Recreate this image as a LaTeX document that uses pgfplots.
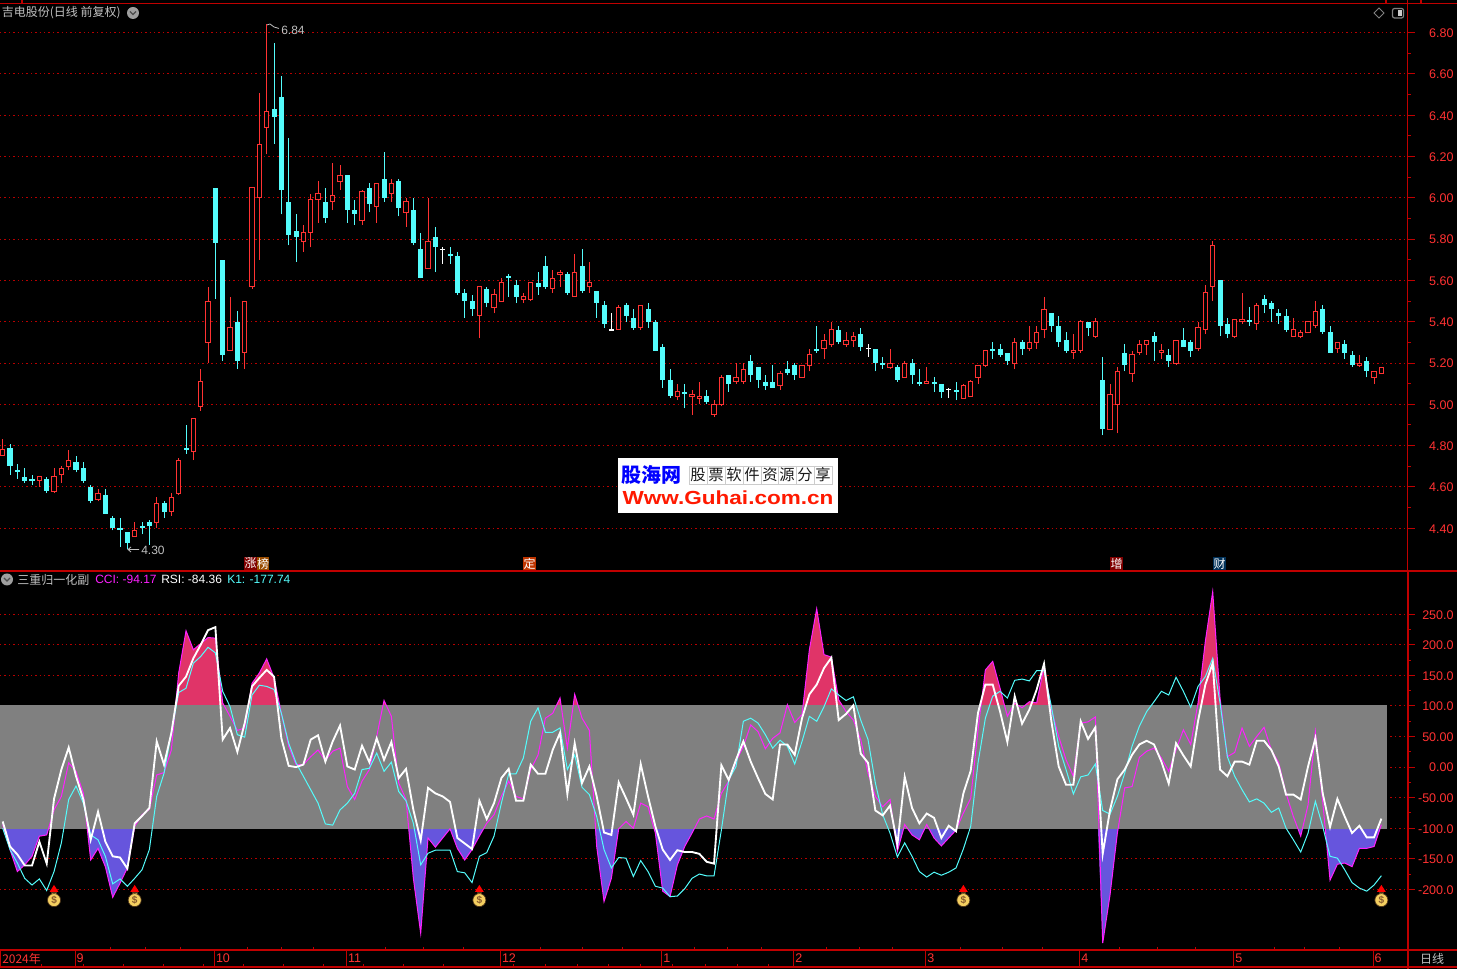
\documentclass[border=0pt]{standalone}
\usepackage{pgfplots}
\usepackage{pgfplotstable}
\usepackage{fontspec}
\pgfplotsset{compat=1.18}
\setmainfont{Liberation Sans}
\newfontfamily\cjk{Noto Sans CJK SC}

\definecolor{cup}{HTML}{FF3232}
\definecolor{cdn}{HTML}{54FCFC}
\definecolor{cframe}{HTML}{C00000}
\definecolor{cgrid}{HTML}{B80000}
\definecolor{clab}{HTML}{FF3232}
\definecolor{cband}{HTML}{808080}
\definecolor{chot}{HTML}{E03468}
\definecolor{ccold}{HTML}{6655DD}
\definecolor{cmag}{HTML}{FF20FF}
\definecolor{cgrey}{HTML}{C0C0C0}

% candles: x = bar number, t/b = body top and bottom, h/l = high and low
\pgfplotstableread{
x t b h l
0 4.78 4.75 4.83 4.75
5 4.65 4.63 4.65 4.60
7 4.65 4.58 4.69 4.57
8 4.69 4.66 4.70 4.62
9 4.73 4.70 4.78 4.68
13 4.57 4.54 4.59 4.53
18 4.39 4.36 4.43 4.36
21 4.52 4.43 4.55 4.40
23 4.55 4.48 4.57 4.46
24 4.73 4.57 4.74 4.56
26 4.93 4.77 4.93 4.73
27 5.11 4.99 5.17 4.97
28 5.50 5.30 5.57 5.20
31 5.37 5.26 5.52 5.26
33 5.50 5.25 5.50 5.17
34 6.05 5.57 6.05 5.56
35 6.26 6.00 6.51 5.70
36 6.42 6.34 6.84 6.21
41 5.83 5.79 5.87 5.74
42 5.99 5.83 6.02 5.76
43 6.02 5.99 6.08 5.88
45 6.01 5.98 6.17 5.94
46 6.11 6.08 6.16 6.04
49 6.03 5.89 6.04 5.87
51 6.07 5.96 6.07 5.88
53 6.07 6.02 6.09 5.98
55 5.98 5.93 6.00 5.86
58 5.79 5.66 6.00 5.66
65 5.57 5.43 5.57 5.32
67 5.53 5.47 5.56 5.44
68 5.59 5.50 5.61 5.50
71 5.52 5.51 5.54 5.49
72 5.59 5.51 5.59 5.50
75 5.61 5.56 5.65 5.54
76 5.64 5.63 5.65 5.57
78 5.64 5.52 5.73 5.52
80 5.59 5.57 5.69 5.54
84 5.47 5.36 5.48 5.36
87 5.48 5.37 5.48 5.36
92 5.06 5.04 5.10 5.02
94 5.05 5.04 5.07 4.95
95 5.04 5.03 5.11 5.00
97 5.00 4.95 5.02 4.94
98 5.13 5.00 5.14 4.99
100 5.13 5.11 5.20 5.10
101 5.17 5.11 5.20 5.10
106 5.15 5.09 5.16 5.07
109 5.19 5.13 5.19 5.13
110 5.24 5.19 5.27 5.16
112 5.31 5.27 5.34 5.22
113 5.36 5.29 5.40 5.28
115 5.31 5.29 5.35 5.28
116 5.33 5.31 5.35 5.28
121 5.20 5.18 5.27 5.17
123 5.20 5.13 5.21 5.13
126 5.11 5.10 5.18 5.10
131 5.09 5.03 5.10 5.03
132 5.11 5.04 5.12 5.04
133 5.19 5.13 5.19 5.10
134 5.26 5.19 5.26 5.18
138 5.30 5.20 5.32 5.17
140 5.30 5.27 5.38 5.26
141 5.35 5.30 5.38 5.27
142 5.46 5.36 5.52 5.32
146 5.26 5.25 5.34 5.22
147 5.40 5.26 5.41 5.25
149 5.40 5.33 5.42 5.32
151 5.05 4.88 5.10 4.88
152 5.16 5.00 5.18 4.86
154 5.24 5.15 5.26 5.11
155 5.29 5.25 5.31 5.24
156 5.31 5.29 5.31 5.24
158 5.26 5.25 5.29 5.22
160 5.31 5.20 5.31 5.19
163 5.37 5.27 5.40 5.26
164 5.54 5.36 5.58 5.34
165 5.77 5.57 5.79 5.50
168 5.41 5.33 5.41 5.32
169 5.41 5.40 5.54 5.39
171 5.48 5.39 5.49 5.36
176 5.36 5.33 5.42 5.33
177 5.35 5.33 5.36 5.32
178 5.40 5.35 5.40 5.35
179 5.45 5.38 5.50 5.37
182 5.30 5.27 5.30 5.25
185 5.20 5.19 5.24 5.18
187 5.16 5.13 5.16 5.10
188 5.18 5.15 5.18 5.15
}\upbars

\pgfplotstableread{
x t b h l
1 4.79 4.70 4.81 4.66
2 4.68 4.67 4.71 4.64
3 4.65 4.63 4.69 4.62
4 4.64 4.63 4.66 4.61
6 4.64 4.58 4.65 4.57
10 4.72 4.68 4.75 4.67
11 4.69 4.63 4.72 4.62
12 4.60 4.53 4.61 4.52
14 4.56 4.47 4.59 4.47
15 4.45 4.40 4.46 4.39
16 4.40 4.39 4.45 4.31
17 4.38 4.33 4.38 4.30
19 4.41 4.40 4.43 4.37
20 4.43 4.41 4.44 4.32
22 4.52 4.48 4.53 4.45
25 4.79 4.78 4.90 4.76
29 6.05 5.78 6.05 5.51
30 5.70 5.24 5.70 5.21
32 5.40 5.21 5.45 5.17
37 6.43 6.39 6.75 6.26
38 6.49 6.04 6.59 5.92
39 5.98 5.82 6.29 5.77
40 5.84 5.81 5.92 5.69
44 5.98 5.90 6.05 5.88
47 6.11 5.94 6.11 5.88
48 5.94 5.92 5.99 5.87
50 6.05 5.97 6.07 5.93
52 6.09 6.00 6.22 5.98
54 6.08 5.95 6.09 5.91
56 5.94 5.78 6.00 5.77
57 5.75 5.61 5.83 5.61
59 5.81 5.76 5.86 5.64
61 5.73 5.72 5.76 5.68
62 5.72 5.54 5.74 5.53
63 5.54 5.50 5.56 5.42
64 5.50 5.46 5.53 5.43
66 5.56 5.49 5.57 5.47
69 5.62 5.61 5.63 5.52
70 5.58 5.52 5.60 5.49
73 5.59 5.57 5.64 5.53
74 5.67 5.57 5.72 5.56
77 5.63 5.54 5.64 5.53
79 5.67 5.55 5.75 5.54
81 5.55 5.49 5.55 5.42
82 5.48 5.39 5.50 5.37
85 5.48 5.43 5.49 5.40
86 5.42 5.37 5.46 5.36
88 5.46 5.40 5.49 5.37
89 5.40 5.26 5.41 5.26
90 5.28 5.12 5.29 5.08
91 5.12 5.04 5.17 5.03
93 5.06 5.05 5.10 4.98
96 5.04 5.01 5.07 5.00
99 5.14 5.10 5.14 5.06
102 5.21 5.14 5.24 5.11
103 5.18 5.12 5.18 5.08
104 5.11 5.09 5.14 5.07
105 5.11 5.08 5.19 5.08
107 5.17 5.15 5.21 5.14
108 5.19 5.14 5.20 5.12
111 5.27 5.26 5.38 5.25
114 5.36 5.30 5.38 5.29
117 5.34 5.28 5.37 5.26
119 5.27 5.20 5.27 5.16
120 5.20 5.19 5.23 5.17
122 5.18 5.12 5.19 5.11
124 5.20 5.14 5.22 5.10
125 5.11 5.10 5.17 5.09
127 5.11 5.10 5.13 5.06
128 5.10 5.06 5.10 5.03
130 5.07 5.06 5.11 5.02
135 5.27 5.26 5.30 5.22
136 5.27 5.24 5.29 5.23
137 5.25 5.21 5.25 5.19
139 5.30 5.27 5.31 5.24
143 5.44 5.38 5.44 5.35
144 5.38 5.30 5.43 5.28
145 5.31 5.26 5.35 5.25
148 5.40 5.37 5.40 5.33
150 5.12 4.88 5.23 4.85
153 5.25 5.19 5.29 5.16
157 5.33 5.30 5.35 5.21
159 5.24 5.21 5.27 5.18
161 5.31 5.28 5.37 5.28
162 5.30 5.26 5.31 5.23
166 5.60 5.38 5.60 5.33
167 5.39 5.34 5.42 5.32
170 5.41 5.40 5.47 5.38
172 5.51 5.48 5.53 5.44
173 5.49 5.46 5.50 5.40
174 5.44 5.43 5.46 5.39
175 5.43 5.36 5.46 5.35
180 5.46 5.35 5.48 5.34
181 5.35 5.25 5.38 5.25
183 5.29 5.25 5.31 5.22
184 5.24 5.19 5.26 5.18
186 5.21 5.16 5.23 5.13
}\downbars

\pgfplotstableread{
x t b h l
60 5.75 5.75 5.76 5.68
83 5.36 5.36 5.44 5.36
118 5.27 5.27 5.29 5.23
129 5.07 5.07 5.08 5.03
}\flatbars

\pgfplotstableread{
x cci rsi k
0 -94 -89 -100
1 -135 -130 -135
2 -171 -143 -157
3 -160 -161 -182
4 -146 -161 -193
5 -113 -122 -183
6 -111 -158 -202
7 -70 -52 -171
8 -48 -4 -124
9 7 32 -53
10 -7 -15 -31
11 -43 -53 -59
12 -152 -119 -111
13 -133 -73 -119
14 -163 -122 -146
15 -213 -146 -191
16 -190 -148 -183
17 -165 -166 -195
18 -97 -92 -182
19 -78 -80 -168
20 -69 -67 -135
21 -13 42 -48
22 -9 4 -10
23 28 56 56
24 154 133 122
25 223 148 129
26 192 178 170
27 202 200 181
28 212 224 196
29 211 229 187
30 105 45 124
31 83 64 99
32 60 25 53
33 64 72 49
34 137 132 118
35 154 146 134
36 177 159 132
37 146 148 127
38 88 47 88
39 34 2 39
40 4 0 7
41 4 4 -15
42 17 45 -37
43 28 52 -59
44 11 9 -93
45 26 42 -95
46 31 68 -70
47 -32 1 -59
48 -53 -4 -43
49 -23 35 -4
50 -4 8 -2
51 50 47 23
52 109 12 -7
53 83 41 8
54 -26 -18 -40
55 -53 -3 -55
56 -182 -70 -92
57 -272 -120 -160
58 -116 -34 -141
59 -131 -43 -136
60 -116 -48 -136
61 -101 -57 -136
62 -133 -116 -171
63 -152 -125 -173
64 -135 -134 -189
65 -113 -55 -146
66 -92 -85 -140
67 -78 -59 -113
68 -48 -18 -59
69 -23 -3 -11
70 -48 -55 -11
71 -52 -55 15
72 -4 4 75
73 20 -11 97
74 80 -11 57
75 88 28 57
76 113 56 64
77 31 -44 -4
78 119 39 20
79 80 -26 -33
80 60 1 -45
81 -130 -48 -81
82 -220 -107 -135
83 -182 -111 -165
84 -101 -25 -148
85 -89 -51 -149
86 -100 -78 -179
87 -59 5 -153
88 -65 -48 -171
89 -108 -97 -195
90 -203 -135 -198
91 -212 -152 -212
92 -160 -136 -211
93 -130 -139 -199
94 -108 -139 -182
95 -85 -142 -175
96 -80 -155 -178
97 -85 -158 -178
98 -43 3 -103
99 -23 -21 -21
100 9 12 1
101 34 42 75
102 69 9 80
103 58 -18 72
104 30 -44 53
105 47 -53 31
106 56 37 44
107 102 37 34
108 73 20 5
109 86 80 42
110 192 119 83
111 259 135 75
112 184 162 99
113 180 179 128
114 110 77 118
115 91 87 109
116 77 101 115
117 45 22 77
118 -10 7 45
119 -48 -71 -26
120 -65 -79 -78
121 -53 -63 -108
122 -138 -127 -147
123 -94 -16 -124
124 -111 -67 -146
125 -119 -92 -171
126 -94 -76 -180
127 -116 -83 -172
128 -129 -116 -177
129 -116 -96 -172
130 -103 -105 -165
131 -75 -43 -134
132 -51 -6 -97
133 61 89 7
134 159 135 80
135 173 135 116
136 129 91 124
137 83 41 113
138 105 116 142
139 97 71 144
140 107 94 141
141 105 127 158
142 165 169 158
143 94 75 99
144 50 1 34
145 12 -29 -4
146 -15 -29 -44
147 72 75 -16
148 74 46 -13
149 82 65 5
150 -288 -142 -71
151 -209 -70 -77
152 -108 -20 -48
153 -34 -4 -10
154 -32 20 34
155 16 37 67
156 26 43 91
157 31 37 107
158 15 9 124
159 -7 -27 118
160 28 39 147
161 61 19 124
162 37 1 98
163 105 75 132
164 206 135 148
165 287 170 178
166 113 -4 105
167 17 -15 17
168 24 9 -15
169 64 9 -37
170 34 4 -57
171 50 43 -52
172 65 43 -59
173 28 28 -74
174 7 1 -67
175 -43 -45 -100
176 -81 -45 -119
177 -113 -53 -139
178 -62 1 -108
179 58 47 -56
180 -56 -43 -97
181 -185 -98 -146
182 -159 -52 -149
183 -157 -81 -168
184 -163 -108 -189
185 -133 -96 -198
186 -133 -115 -203
187 -130 -115 -193
188 -94.17 -84.36 -177.74
}\indic

% candle marks, drawn relative to the body bottom; 154.875pt = one price unit
\newcommand\barsizes{%
  \pgfmathsetlengthmacro\bh{154.875*(\vt-\vb)}%
  \pgfmathsetlengthmacro\wh{154.875*(\vh-\vb)}%
  \pgfmathsetlengthmacro\wl{154.875*(\vl-\vb)}%
  \pgfsetlinewidth{0.75pt}\pgfsetbuttcap}
\newcommand\wick{%
  \pgfpathmoveto{\pgfqpoint{0pt}{\wl}}\pgfpathlineto{\pgfqpoint{0pt}{\wh}}\pgfusepathqstroke}
\pgfdeclareplotmark{barup}{\barsizes\pgfsetstrokecolor{cup}\pgfsetfillcolor{black}\wick
  \pgfpathrectangle{\pgfqpoint{-1.6pt}{0pt}}{\pgfqpoint{3.2pt}{\bh}}\pgfusepathqfillstroke}
\pgfdeclareplotmark{bardown}{\barsizes\pgfsetstrokecolor{cdn}\pgfsetfillcolor{cdn}\wick
  \pgfpathrectangle{\pgfqpoint{-1.9pt}{0pt}}{\pgfqpoint{3.8pt}{\bh}}\pgfusepathqfill}
\pgfdeclareplotmark{barflat}{\barsizes\pgfsetstrokecolor{white}\pgfsetfillcolor{white}\wick
  \pgfpathrectangle{\pgfqpoint{-1.9pt}{-0.4pt}}{\pgfqpoint{3.8pt}{0.8pt}}\pgfusepathqfill}
\pgfdeclareplotmark{moneybag}{%
  \pgfsetcolor{red}\pgfpathmoveto{\pgfqpoint{0pt}{8.8pt}}\pgfpathlineto{\pgfqpoint{3.3pt}{3.6pt}}%
  \pgfpathlineto{\pgfqpoint{-3.3pt}{3.6pt}}\pgfpathclose\pgfusepathqfill
  \definecolor{bagc}{HTML}{F4CF60}\pgfsetfillcolor{bagc}\pgfsetstrokecolor{black!60!brown}\pgfsetlinewidth{0.5pt}%
  \pgfpathrectangle{\pgfqpoint{-1.8pt}{1pt}}{\pgfqpoint{3.6pt}{2.6pt}}\pgfusepathqfillstroke
  \pgfpathcircle{\pgfqpoint{0pt}{-2.6pt}}{4.9pt}\pgfusepathqfillstroke
  \pgftext[at=\pgfqpoint{0pt}{-2.6pt}]{\color{brown!70!black}\fontsize{7.5}{8}\selectfont\bfseries\$}}

\pgfplotsset{
  candle plot/.style={scatter, only marks, mark=#1, clip marker paths=false,
    scatter/@pre marker code/.code={\scope},
    scatter/@post marker code/.code={\endscope},
    visualization depends on={\thisrow{t}\as\vt},
    visualization depends on={\thisrow{b}\as\vb},
    visualization depends on={\thisrow{h}\as\vh},
    visualization depends on={\thisrow{l}\as\vl}},
  pane/.style={
    x=5.5pt, xmin=-0.368, xmax=191.57, xtick=\empty,
    axis x line=top, axis y line=right,
    axis line style={-, cframe, line width=0.9pt},
    tick style={cframe, line width=0.75pt},
    tick align=outside, ytick pos=right,
    major tick length=5.25pt, minor tick length=2.4pt, minor y tick num=1,
    ymajorgrids, grid style={cgrid, line width=0.75pt, dash pattern=on 1pt off 2.3pt},
    yticklabel style={anchor=east, xshift=29.5pt, yshift=-0.4pt, inner sep=0pt, text=clab,
      font=\fontsize{9.4}{10}\selectfont},
    clip=false},
}

\begin{document}
\begin{tikzpicture}
\fill[black] (0,0) rectangle (1092.75pt,726.75pt);
\path[use as bounding box] (0,0) rectangle (1092.75pt,726.75pt);

% price pane
\begin{axis}[pane, at={(0pt,298.5pt)}, anchor=south west,
  y=154.875pt, ymin=4.193, ymax=6.942,
  ytick={4.4,4.6,4.8,5,5.2,5.4,5.6,5.8,6,6.2,6.4,6.6,6.8},
  yticklabels={4.40,4.60,4.80,5.00,5.20,5.40,5.60,5.80,6.00,6.20,6.40,6.60,6.80}]
  \addplot[candle plot=barup] table[x=x, y=b] {\upbars};
  \addplot[candle plot=bardown] table[x=x, y=b] {\downbars};
  \addplot[candle plot=barflat] table[x=x, y=b] {\flatbars};
\end{axis}

% indicator pane: the band hides the middle of the two fills
\begin{axis}[pane, at={(0pt,14.25pt)}, anchor=south west,
  y=0.45833pt, ymin=-299.3, ymax=320.9,
  ytick={-200,-150,-100,-50,0,50,100,150,200,250},
  yticklabels={-200.0,-150.0,-100.0,-50.00,0.00,50.00,100.0,150.0,200.0,250.0}]
  \addplot[fill=chot, draw=none] table[x=x, y expr={max(\thisrow{cci},0)}] {\indic} \closedcycle;
  \addplot[fill=ccold, draw=none] table[x=x, y expr={min(\thisrow{cci},0)}] {\indic} \closedcycle;
  \addplot[fill=cband, draw=none] coordinates {(-0.368,-101) (188.78,-101) (188.78,101) (-0.368,101)} -- cycle;
  \addplot[cmag, line width=0.75pt] table[x=x, y=cci] {\indic};
  \addplot[cdn, line width=0.75pt] table[x=x, y=k] {\indic};
  \addplot[white, line width=1.4pt] table[x=x, y=rsi] {\indic};
  \addplot[only marks, mark=moneybag] coordinates {(7,-212) (18,-212) (65,-212) (131,-212) (188,-212)};
\end{axis}

% time strip
\begin{axis}[at={(0pt,1.5pt)}, anchor=south west, x=5.5pt, xmin=-0.368, xmax=191.57,
  y=12.75pt, ymin=0, ymax=1, ytick=\empty,
  axis line style={cframe, line width=0.9pt},
  xtick={9.87,28.87,46.87,67.87,89.87,107.87,125.87,146.87,167.87,186.87},
  xticklabels={9,10,11,12,1,2,3,4,5,6},
  xtick pos=bottom, tick align=inside, major tick length=12.75pt,
  tick style={cframe, line width=0.75pt},
  xticklabel style={anchor=west, yshift=6.4pt, inner sep=1pt, text=clab, font=\fontsize{9.4}{10}\selectfont},
  clip=false]
\end{axis}

% frame, headers and labels, in reference pixels
\begin{scope}[x=0.75pt, y=-0.75pt, shift={(0pt,726.75pt)}]
  \draw[cframe, line width=0.9pt] (0,3.3) -- (1457,3.3) (1407.5,0) -- (1407.5,3.3)
    (22,0) -- (22,3) (1386,0) -- (1386,3) (1421,0) -- (1421,3);
  \draw[cframe, line width=0.9pt] (1407.5,571) -- (1457,571) (1407.5,950) -- (1457,950) (1407.5,967) -- (1457,967);
  \draw[cframe, line width=1.5pt] (1407.5,571) -- (1407.5,969);
  \draw[cframe, line width=1pt] (1407.5,3) -- (1407.5,571);
  \foreach \t in {110,145,180,247,281,313,385,423,463,540,582,622,694,727,761,826,859,892,960,1002,1042,1119,1157,1195,1274,1304,1339}
    \draw[cframe, line width=0.75pt] (\t,950) -- (\t,947);
  \foreach \t in {41,83,123,163,203,243,283,323,363,403,443,513,545,577,608,640,672,705,737,768}
    \draw[cframe, line width=0.75pt] (\t,967) -- (\t,964);

  \node[anchor=west, inner sep=0pt, text=cgrey, font=\cjk\fontsize{9}{10}\selectfont] at (1.5,13) {吉电股份(日线 前复权)};
  \fill[gray!75] (133,13) circle (6);
  \draw[black!70, line width=1pt] (130,11.5) -- (133,14.5) -- (136,11.5);
  \fill[gray!75] (7,579.5) circle (6);
  \draw[black!70, line width=1pt] (4,578) -- (7,581) -- (10,578);
  \draw[gray, line width=0.75pt] (1379,8) -- (1384,13) -- (1379,18) -- (1374,13) -- cycle;
  \draw[gray, line width=0.9pt, rounded corners=1.5] (1392.5,8.5) rectangle (1403.5,18);
  \fill[gray!40] (1398,10.5) rectangle (1402,16);

  \node[anchor=west, inner sep=0pt, text=cgrey, font=\fontsize{9}{10}\selectfont] at (281,30.5) {6.84};
  \draw[cgrey, line width=0.6pt] (267,25) -- (270,24) -- (274,27) -- (279,28.5);
  \node[anchor=west, inner sep=0pt, text=cgrey, font=\fontsize{9}{10}\selectfont] at (141,550.5) {4.30};
  \draw[cgrey, line width=0.6pt] (139,549.5) -- (128,549.5) (131,547) -- (128,549.5) -- (131,552);

  \node[anchor=west, inner sep=0pt, text=cgrey, font=\cjk\fontsize{9}{10}\selectfont] at (17,579.5) {三重归一化副};
  \node[anchor=west, inner sep=0pt, text=cmag, font=\fontsize{9}{10}\selectfont] at (95,579.5) {CCI: -94.17};
  \node[anchor=west, inner sep=0pt, text=white, font=\fontsize{9}{10}\selectfont] at (161,579.5) {RSI: -84.36};
  \node[anchor=west, inner sep=0pt, text=cdn, font=\fontsize{9}{10}\selectfont] at (227,579.5) {K1: -177.74};

  \node[anchor=west, inner sep=0pt, text=clab, font=\cjk\fontsize{9}{10}\selectfont] at (2,958.5) {2024年};
  \node[anchor=center, inner sep=0pt, text=cgrey, font=\cjk\fontsize{9}{10}\selectfont] at (1432,958.5) {日线};

  % event tags
  \fill[red!50!black] (244,557) rectangle (257,570);
  \fill[orange!60!black] (257,557) rectangle (269,570);
  \fill[orange!55!red!75!black] (523,557) rectangle (536,570);
  \fill[red!50!black] (1110,557) rectangle (1123,570);
  \fill[blue!45!cyan!35!black] (1213,557) rectangle (1226,570);
  \foreach \tx/\tg in {250.5/涨,263/榜,529.5/定,1116.5/增,1219.5/财}
    \node[text=white, inner sep=0pt, font=\cjk\fontsize{9}{10}\selectfont] at (\tx,563.5) {\tg};

  % site stamp
  \fill[white] (618,458) rectangle (838,513);
  \node[anchor=center, inner sep=0pt, text=blue, font=\cjk\bfseries\fontsize{15}{16}\selectfont] at (651.5,475) {股海网};
  \draw[gray!40, line width=0.6pt] (689,466.5) rectangle (832,484);
  \foreach \c in {707,725,743,761,778,796,814}
    \draw[gray!40, line width=0.6pt] (\c,466.5) -- (\c,484);
  \foreach \c/\g in {698/股,716/票,734/软,752/件,770/资,787/源,805/分,823/享}
    \node[text=black!90, inner sep=0pt, font=\cjk\fontsize{11.5}{12}\selectfont] at (\c,475) {\g};
  \node[anchor=center, inner sep=0pt, text=red!80!orange, xscale=1.19, font=\bfseries\fontsize{14.2}{15}\selectfont] at (728,497.5) {Www.Guhai.com.cn};
\end{scope}
\end{tikzpicture}
\end{document}
